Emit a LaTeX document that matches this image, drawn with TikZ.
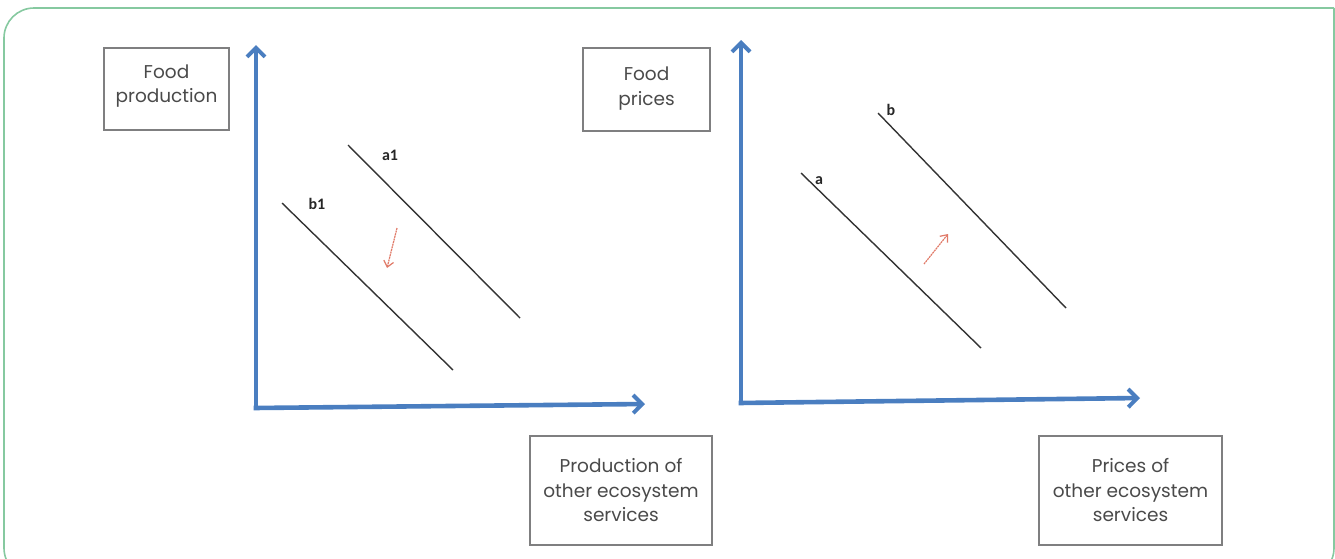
\documentclass[tikz,border=0pt]{standalone}
\usepackage{fontspec}
\setmainfont{Poppins}
\newfontfamily\labelfont{Carlito}
\usetikzlibrary{arrows.meta,positioning}
\definecolor{frame}{HTML}{86C9A0}
\definecolor{axisblue}{HTML}{4A7EC0}
\definecolor{boxgray}{HTML}{7F7F80}
\definecolor{textgray}{HTML}{4A4A4A}
\definecolor{shiftred}{HTML}{E07A68}
\tikzset{
  axislabel/.style={rectangle,draw=boxgray,line width=2.6pt,fill=white,align=center,text=textgray,inner sep=0pt,font=\fontsize{18.5}{24.5}\selectfont},
  axis/.style={-{Straight Barb[length=9pt,width=18pt,line width=4pt]},line width=4.6pt,axisblue,line join=miter},
  curve/.style={line width=1.4pt,black!80},
  curvelabel/.style={font=\labelfont\bfseries\fontsize{16}{16}\selectfont,text=black!85,inner sep=1pt},
  shiftarrow/.style={-{Straight Barb[length=6pt,width=10pt]},line width=1.2pt,shiftred,dash pattern=on 2pt off 0.7pt}
}
\begin{document}
\begin{tikzpicture}[x=1pt,y=-1pt]
    \useasboundingbox (0,0) rectangle (1335,558);
    % outer frame
    \draw[frame,line width=1.6pt,rounded corners=30pt] (1334,8) -- (4,8) -- (4,578) -- (1334,578) -- (1334,8);
    % left chart: food production
    \coordinate (o1) at (256,408);
    \coordinate (y1) at (256,45);
    \coordinate (x1) at (645,404);
    \draw[axis] (o1) -- (y1);
    \draw[axis] ([xshift=-2.3pt]o1) -- (x1);
    \node[axislabel,minimum width=125pt,minimum height=82pt] (fp) at (166.5,89) {Food\\production\\[-14pt]};
    \node[axislabel,minimum width=182pt,minimum height=109pt] (pes) at (621,490.5) {Production of\\other ecosystem\\services};
    \coordinate (a1s) at (348,145); \coordinate (a1e) at (520,318);
    \coordinate (b1s) at (282,203); \coordinate (b1e) at (453,370);
    \draw[curve] (a1s) -- (a1e);
    \draw[curve] (b1s) -- (b1e);
    \node[curvelabel] (a1) at (390,155) {a1};
    \node[curvelabel] (b1) at (317,204) {b1};
    \coordinate (d1s) at (397,228); \coordinate (d1e) at (387,268);
    \draw[shiftarrow] (d1s) -- (d1e);
    % right chart: food prices
    \coordinate (o2) at (741,403);
    \coordinate (y2) at (741,40);
    \coordinate (x2) at (1140,398);
    \draw[axis] (o2) -- (y2);
    \draw[axis] ([xshift=-2.3pt]o2) -- (x2);
    \node[axislabel,minimum width=127pt,minimum height=83pt] (fpr) at (646.5,89.5) {Food\\prices\\[-18pt]};
    \node[axislabel,minimum width=183pt,minimum height=109pt] (pr) at (1130.5,490.5) {Prices of\\other ecosystem\\services};
    \coordinate (as) at (801,173); \coordinate (ae) at (981,348);
    \coordinate (bs) at (878,113); \coordinate (be) at (1066,308);
    \draw[curve] (as) -- (ae);
    \draw[curve] (bs) -- (be);
    \node[curvelabel] (a) at (819,181) {a};
    \node[curvelabel] (b) at (891,110) {b};
    \coordinate (d2s) at (924,264); \coordinate (d2e) at (948,234);
    \draw[shiftarrow] (d2s) -- (d2e);
\end{tikzpicture}
\end{document}
